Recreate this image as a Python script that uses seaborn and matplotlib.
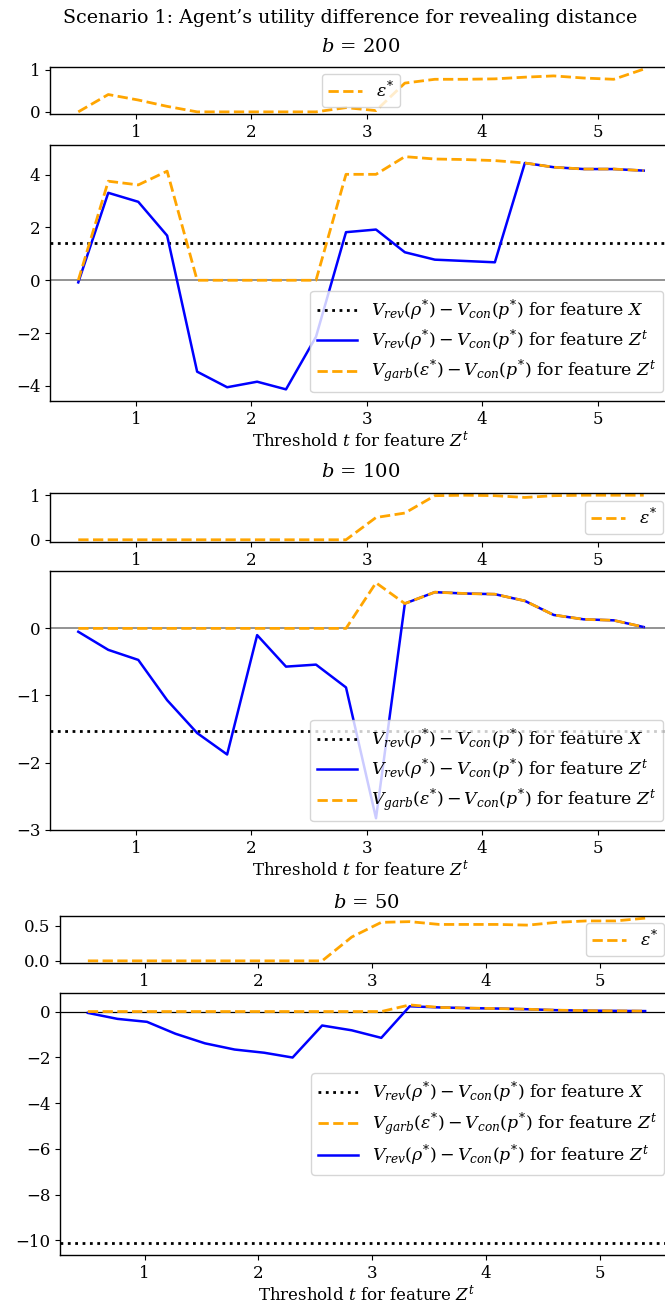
import matplotlib
matplotlib.use("Agg")
import matplotlib.pyplot as plt
from matplotlib.ticker import MultipleLocator, FixedLocator
import seaborn as sns

# thresholds t for feature Z^t
t = [0.50, 0.76, 1.02, 1.27, 1.53, 1.79, 2.05, 2.30, 2.56, 2.82,
     3.08, 3.33, 3.59, 3.85, 4.11, 4.37, 4.62, 4.88, 5.14, 5.40]

# b = 200
eps_200 = [0.00, 0.41, 0.28, 0.13, 0.00, 0.00, 0.00, 0.00, 0.00, 0.10,
           0.03, 0.68, 0.77, 0.77, 0.78, 0.82, 0.85, 0.80, 0.77, 1.01]
rev_200 = [-0.08, 3.31, 2.97, 1.69, -3.46, -4.05, -3.84, -4.13, -2.14, 1.82,
           1.92, 1.06, 0.78, 0.73, 0.68, 4.44, 4.28, 4.21, 4.21, 4.15]
garb_200 = [0.00, 3.75, 3.61, 4.13, 0.00, 0.00, 0.00, 0.00, 0.00, 4.01,
            4.01, 4.68, 4.59, 4.57, 4.53, 4.44, 4.28, 4.21, 4.21, 4.15]
x_feat_200 = 1.41

# b = 100
eps_100 = [0.00, 0.00, 0.00, 0.00, 0.00, 0.00, 0.00, 0.00, 0.00, 0.00,
           0.50, 0.60, 0.99, 1.00, 0.99, 0.95, 0.99, 1.00, 1.00, 1.00]
rev_100 = [-0.05, -0.32, -0.47, -1.07, -1.56, -1.88, -0.10, -0.57, -0.54, -0.88,
           -2.83, 0.37, 0.54, 0.52, 0.51, 0.41, 0.20, 0.135, 0.12, 0.02]
garb_100 = [0.00, 0.00, 0.00, 0.00, 0.00, 0.00, 0.00, 0.00, 0.00, 0.00,
            0.68, 0.37, 0.54, 0.52, 0.51, 0.41, 0.20, 0.135, 0.12, 0.02]
x_feat_100 = -1.53

# b = 50
eps_50 = [0.00, 0.00, 0.00, 0.00, 0.00, 0.00, 0.00, 0.00, 0.00, 0.34,
          0.55, 0.56, 0.52, 0.52, 0.52, 0.51, 0.55, 0.57, 0.57, 0.61]
rev_50 = [-0.06, -0.32, -0.45, -0.97, -1.39, -1.66, -1.80, -2.01, -0.61, -0.82,
          -1.15, 0.23, 0.18, 0.15, 0.13, 0.10, 0.06, 0.04, 0.03, 0.02]
garb_50 = [0.00, 0.00, 0.00, 0.00, 0.00, 0.00, 0.00, 0.00, 0.00, 0.00,
           0.00, 0.29, 0.18, 0.15, 0.13, 0.10, 0.06, 0.04, 0.03, 0.02]
x_feat_50 = -10.12

budgets = ["200", "100", "50"]

plt.rcParams.update({
    "font.family": "serif",
    "font.serif": ["DejaVu Serif"],
    "mathtext.fontset": "dejavuserif",
    "font.size": 12,
    "axes.linewidth": 1.0,
})

LBL_X = r"$V_{rev}(\rho^{*}) - V_{con}(p^{*})$ for feature $X$"
LBL_REV = r"$V_{rev}(\rho^{*}) - V_{con}(p^{*})$ for feature $Z^{t}$"
LBL_GARB = r"$V_{garb}(\varepsilon^{*}) - V_{con}(p^{*})$ for feature $Z^{t}$"
LBL_EPS = r"$\varepsilon^{*}$"

W, H = 665, 1302
fig = plt.figure(figsize=(W / 100, H / 100), dpi=100)


def rect(l, t_, r, b):
    return [l / W, 1 - b / H, (r - l) / W, (b - t_) / H]


def draw_section(top_box, main_box, eps, rev, garb, xfeat, budget,
                 eps_loc, main_loc, legend_order, eps_ticks, main_step,
                 zero_color, zero_lw, title_y):
    ax_e = fig.add_axes(rect(*top_box))
    ax_m = fig.add_axes(rect(*main_box))

    sns.lineplot(x=t, y=eps, ax=ax_e, color="orange", linestyle="--",
                 linewidth=2, label=LBL_EPS)
    ax_e.legend(loc=eps_loc, fontsize=12.5, borderpad=0.35)
    ax_e.yaxis.set_major_locator(FixedLocator(eps_ticks))

    ax_m.axhline(0, color=zero_color, linewidth=zero_lw, zorder=1)
    ax_m.axhline(xfeat, color="black", linestyle=":", linewidth=2,
                 label=LBL_X)
    sns.lineplot(x=t, y=rev, ax=ax_m, color="blue", linewidth=1.8,
                 label=LBL_REV)
    sns.lineplot(x=t, y=garb, ax=ax_m, color="orange", linestyle="--",
                 linewidth=2, label=LBL_GARB)
    handles, labels = ax_m.get_legend_handles_labels()
    by_label = dict(zip(labels, handles))
    ax_m.legend([by_label[k] for k in legend_order], legend_order,
                loc=main_loc, fontsize=12.5, labelspacing=0.3,
                handlelength=2.3)
    ax_m.yaxis.set_major_locator(MultipleLocator(main_step))
    ax_m.set_xlabel(r"Threshold $t$ for feature $Z^{t}$", labelpad=2)
    ax_m.set_ylabel("")

    for ax in (ax_e, ax_m):
        ax.set_xlim(0.255, 5.645)
        ax.xaxis.set_major_locator(MultipleLocator(1))

    cx = (top_box[0] + top_box[2]) / 2 / W
    fig.text(cx, 1 - title_y / H, f"$b$ = {budget}", ha="center",
             va="center", fontsize=14)


draw_section((50, 67, 672, 114), (50, 145, 672, 401),
             eps_200, rev_200, garb_200, x_feat_200, budgets[0],
             "center", "lower right", [LBL_X, LBL_REV, LBL_GARB],
             [0, 1], 2, "gray", 1.2, 47)
draw_section((50, 493, 672, 542), (50, 571, 672, 830),
             eps_100, rev_100, garb_100, x_feat_100, budgets[1],
             "center right", "lower right", [LBL_X, LBL_REV, LBL_GARB],
             [0, 1], 1, "gray", 1.2, 472)
draw_section((60, 916, 673, 963), (60, 993, 673, 1255),
             eps_50, rev_50, garb_50, x_feat_50, budgets[2],
             "center right", "center right", [LBL_X, LBL_GARB, LBL_REV],
             [0.0, 0.5], 2, "black", 0.9, 903)

fig.text(350 / W, 1 - 18 / H,
         "Scenario 1: Agent\u2019s utility difference for revealing distance",
         ha="center", va="center", fontsize=13.7)

fig.savefig("out.png", dpi=100)
